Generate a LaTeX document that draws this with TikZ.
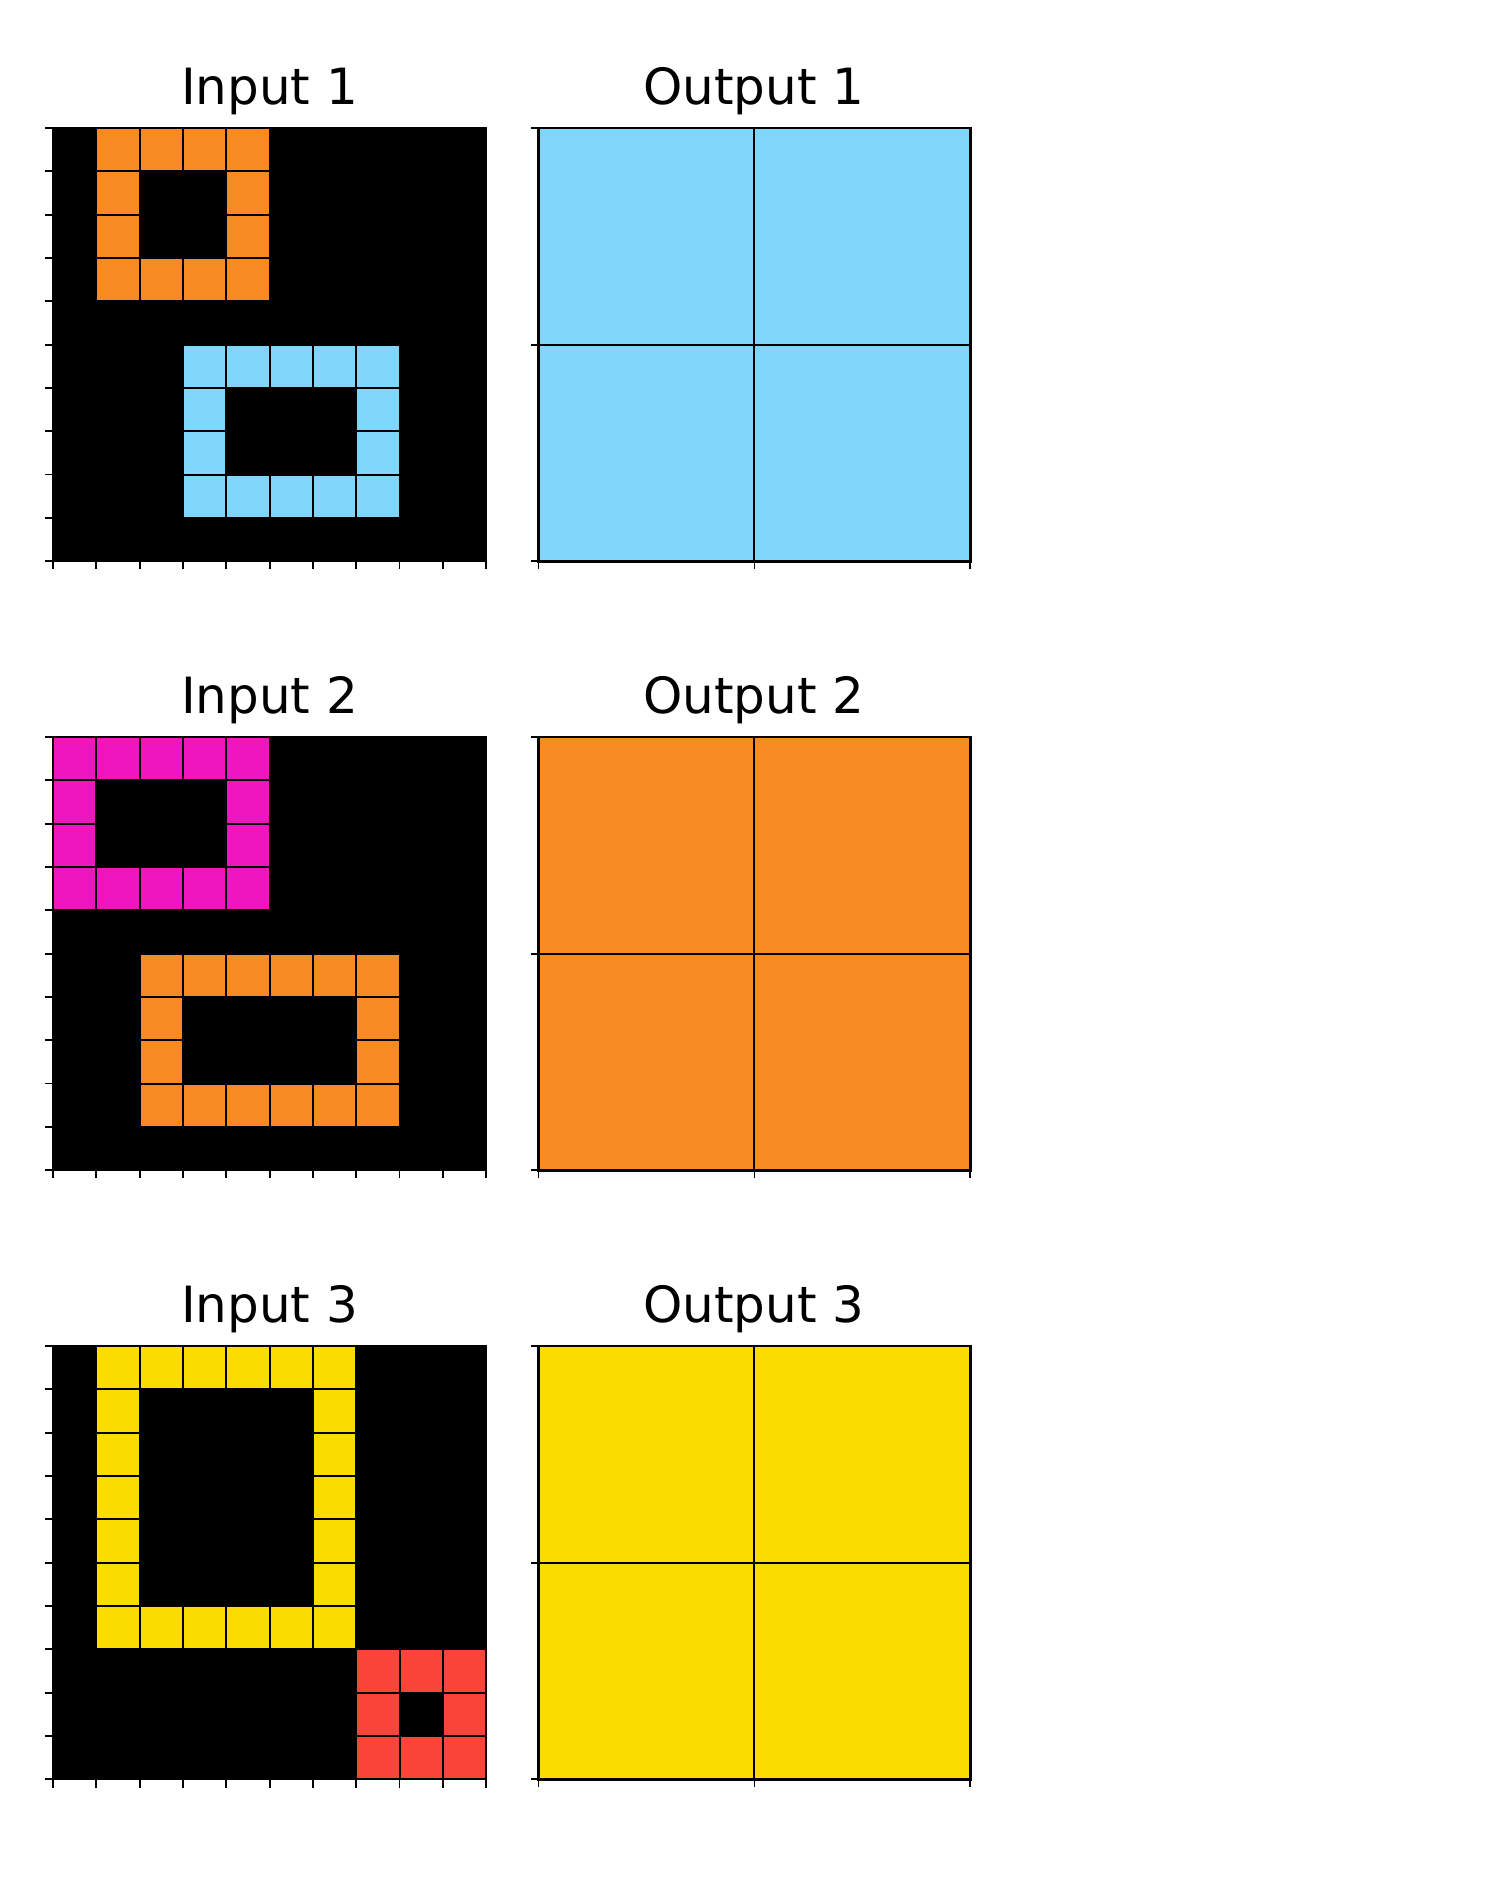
\documentclass[tikz,border=0pt]{standalone}
\usepackage{fontspec}
\setmainfont{DejaVu Sans}
\usetikzlibrary{positioning}
\definecolor{arcorange}{HTML}{F88A24}
\definecolor{arcsky}{HTML}{80D6FA}
\definecolor{arcpink}{HTML}{EF15BF}
\definecolor{arcyellow}{HTML}{FADC00}
\definecolor{arcred}{HTML}{F9443A}

\tikzset{
  cellgrid/.style={draw=black, line width=0.57pt},
  frame/.style={draw=black, line width=0.6pt},
  outframe/.style={draw=black, line width=0.8pt},
  axtick/.style={draw=black, line width=0.5pt},
  paneltitle/.style={anchor=base, inner sep=0pt, font=\fontsize{14.2}{17}\selectfont},
}

\begin{document}
\begin{tikzpicture}[x=0.01cm, y=-0.01cm]
\useasboundingbox (0,0) rectangle (1500,1890);

% titles
\foreach \r/\lab in {0/1,1/2,2/3}{
  \node[paneltitle] (in\lab) at (269.5, 104+609*\r) {Input \lab};
  \node[paneltitle] (out\lab) at (754, 104+609*\r) {Output \lab};
}

% ---- row 1 ----
\begin{scope}[shift={(53,128)}, x=0.433cm, y=-0.433cm]
  \fill[black] (0,0) rectangle (10,10);
  \fill[arcorange] (1,0) rectangle (5,4);
  \fill[black] (2,1) rectangle (4,3);
  \fill[arcsky] (3,5) rectangle (8,9);
  \fill[black] (4,6) rectangle (7,8);
  \foreach \k in {1,...,9}{
    \draw[cellgrid] (\k,0) -- (\k,10);
    \draw[cellgrid] (0,\k) -- (10,\k);
  }
  \draw[frame] (0,0) rectangle (10,10);
  \foreach \k in {0,...,10}{
    \draw[axtick] (\k,10) -- ++(0,0.19);
    \draw[axtick] (0,\k) -- ++(-0.19,0);
  }
\end{scope}
\begin{scope}[shift={(538.5,128)}, x=2.1575cm, y=-2.165cm]
  \fill[arcsky] (0,0) rectangle (2,2);
  \draw[cellgrid] (1,0) -- (1,2) (0,1) -- (2,1);
  \draw[outframe] (0,0) rectangle (2,2);
  \foreach \k in {0,1,2}{
    \draw[axtick] (\k,2) -- ++(0,0.037);
    \draw[axtick] (0,\k) -- ++(-0.037,0);
  }
\end{scope}

% ---- row 2 ----
\begin{scope}[shift={(53,737)}, x=0.433cm, y=-0.433cm]
  \fill[black] (0,0) rectangle (10,10);
  \fill[arcpink] (0,0) rectangle (5,4);
  \fill[black] (1,1) rectangle (4,3);
  \fill[arcorange] (2,5) rectangle (8,9);
  \fill[black] (3,6) rectangle (7,8);
  \foreach \k in {1,...,9}{
    \draw[cellgrid] (\k,0) -- (\k,10);
    \draw[cellgrid] (0,\k) -- (10,\k);
  }
  \draw[frame] (0,0) rectangle (10,10);
  \foreach \k in {0,...,10}{
    \draw[axtick] (\k,10) -- ++(0,0.19);
    \draw[axtick] (0,\k) -- ++(-0.19,0);
  }
\end{scope}
\begin{scope}[shift={(538.5,737)}, x=2.1575cm, y=-2.165cm]
  \fill[arcorange] (0,0) rectangle (2,2);
  \draw[cellgrid] (1,0) -- (1,2) (0,1) -- (2,1);
  \draw[outframe] (0,0) rectangle (2,2);
  \foreach \k in {0,1,2}{
    \draw[axtick] (\k,2) -- ++(0,0.037);
    \draw[axtick] (0,\k) -- ++(-0.037,0);
  }
\end{scope}

% ---- row 3 ----
\begin{scope}[shift={(53,1346)}, x=0.433cm, y=-0.433cm]
  \fill[black] (0,0) rectangle (10,10);
  \fill[arcyellow] (1,0) rectangle (7,7);
  \fill[black] (2,1) rectangle (6,6);
  \fill[arcred] (7,7) rectangle (10,10);
  \fill[black] (8,8) rectangle (9,9);
  \foreach \k in {1,...,9}{
    \draw[cellgrid] (\k,0) -- (\k,10);
    \draw[cellgrid] (0,\k) -- (10,\k);
  }
  \draw[frame] (0,0) rectangle (10,10);
  \foreach \k in {0,...,10}{
    \draw[axtick] (\k,10) -- ++(0,0.19);
    \draw[axtick] (0,\k) -- ++(-0.19,0);
  }
\end{scope}
\begin{scope}[shift={(538.5,1346)}, x=2.1575cm, y=-2.165cm]
  \fill[arcyellow] (0,0) rectangle (2,2);
  \draw[cellgrid] (1,0) -- (1,2) (0,1) -- (2,1);
  \draw[outframe] (0,0) rectangle (2,2);
  \foreach \k in {0,1,2}{
    \draw[axtick] (\k,2) -- ++(0,0.037);
    \draw[axtick] (0,\k) -- ++(-0.037,0);
  }
\end{scope}
\end{tikzpicture}
\end{document}
